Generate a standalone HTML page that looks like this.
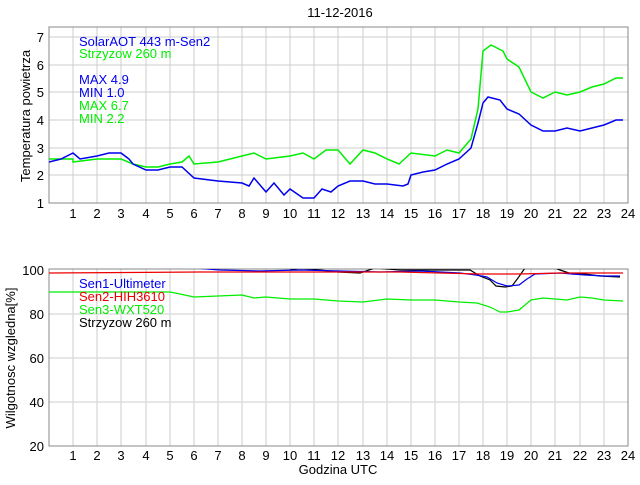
<!DOCTYPE html>
<html><head><style>
body{margin:0;background:#fff;}
svg text{font-family:"Liberation Sans",sans-serif;font-size:13px;}
</style></head><body>
<svg width="640" height="480" xmlns="http://www.w3.org/2000/svg">
<defs>
<clipPath id="c1"><rect x="49" y="27" width="579" height="177"/></clipPath>
<clipPath id="c2"><rect x="49" y="269" width="579" height="178"/></clipPath>
</defs>
<rect width="640" height="480" fill="#fff"/>
<text x="340" y="17" text-anchor="middle" font-size="12">11-12-2016</text>
<g id="grid1" stroke="#ddd" stroke-width="1.5">
<line x1="49" x2="628" y1="37" y2="37"/><line x1="49" x2="628" y1="65" y2="65"/><line x1="49" x2="628" y1="92" y2="92"/><line x1="49" x2="628" y1="120" y2="120"/><line x1="49" x2="628" y1="148" y2="148"/><line x1="49" x2="628" y1="175" y2="175"/>
</g>
<g stroke="#ccc" stroke-width="1">
<path d="M73 27V203M97 27V203M121 27V203M146 27V203M170 27V203M194 27V203M218 27V203M242 27V203M266 27V203M290 27V203M314 27V203M338 27V203M363 27V203M387 27V203M411 27V203M435 27V203M459 27V203M483 27V203M507 27V203M531 27V203M555 27V203M580 27V203M604 27V203"/>
<path d="M73 269V446M97 269V446M121 269V446M146 269V446M170 269V446M194 269V446M218 269V446M242 269V446M266 269V446M290 269V446M314 269V446M338 269V446M363 269V446M387 269V446M411 269V446M435 269V446M459 269V446M483 269V446M507 269V446M531 269V446M555 269V446M580 269V446M604 269V446"/>
</g>
<g stroke="#ddd" stroke-width="1.5">
<line x1="49" x2="628" y1="314" y2="314"/><line x1="49" x2="628" y1="358" y2="358"/><line x1="49" x2="628" y1="402" y2="402"/>
</g>
<rect x="49" y="27" width="579" height="176" fill="none" stroke="#888"/>
<rect x="49" y="269" width="579" height="177" fill="none" stroke="#888"/>
<g clip-path="url(#c1)" fill="none" stroke-width="1.5">
<polyline stroke="#00ee00" points="49,159 73,159 73,162 97,159 121,159 133,164 146,167 158,167 170,164 182,162 189,156 194,164 218,162 242,156 254,153 266,159 290,156 303,153 314,159 326,150 338,150 350,164 363,150 375,153 387,159 399,164 411,153 435,156 447,150 459,153 471,139 478,109 483,51 491,45 503,51 507,59 519,67 531,92 543,98 555,92 567,95 580,92 592,87 604,84 616,78 623,78"/>
<polyline stroke="#0000ee" points="49,162 61,159 73,153 80,159 97,156 109,153 121,153 129,159 133,164 146,170 158,170 170,167 182,167 194,178 218,181 242,183 249,186 254,178 266,192 274,183 284,195 290,189 303,198 314,198 322,189 331,192 338,186 350,181 363,181 375,184 387,184 403,186 408,184 411,175 423,172 435,170 447,164 459,159 471,148 478,123 483,103 488,97 500,100 507,109 519,114 531,125 543,131 555,131 567,128 580,131 592,128 604,125 616,120 623,120"/>
</g>
<g clip-path="url(#c2)" fill="none" stroke-width="1.2">
<polyline stroke="#000" points="290,270 300,268 320,270 338,272 360,273 375,268 400,270 470,270 480,276 490,280 496,286 505,287 512,286 518,278 525,268 540,268 550,266 560,270 572,274 585,274 600,276 620,277"/>
<polyline stroke="#0000ee" points="49,268 194,268 220,270 260,271 300,270 340,271 380,272 420,271 460,273 476,275 487,277 497,283 507,286 519,285 527,279 535,274 560,273 585,275 605,276 620,276"/>
<polyline stroke="#ee0000" points="49,273 200,272 300,272 400,272 480,274 520,274 560,273 600,273 623,273"/>
<polyline stroke="#00ee00" points="49,292 170,292 180,294 194,297 218,296 242,295 254,298 266,297 290,299 314,299 338,301 363,302 387,299 411,300 435,300 459,302 477,303 490,307 500,312 507,312 519,310 531,300 543,298 555,299 567,300 580,297 592,298 604,300 623,301"/>
</g>
<g text-anchor="end">
<text x="44" y="42">7</text><text x="44" y="70">6</text><text x="44" y="97">5</text><text x="44" y="125">4</text><text x="44" y="153">3</text><text x="44" y="180">2</text><text x="44" y="208">1</text>
<text x="44" y="275">100</text><text x="44" y="319">80</text><text x="44" y="363">60</text><text x="44" y="407">40</text><text x="44" y="451">20</text>
</g>
<g text-anchor="middle">
<text x="73" y="218">1</text><text x="97" y="218">2</text><text x="121" y="218">3</text><text x="146" y="218">4</text><text x="170" y="218">5</text><text x="194" y="218">6</text><text x="218" y="218">7</text><text x="242" y="218">8</text><text x="266" y="218">9</text><text x="290" y="218">10</text><text x="314" y="218">11</text><text x="338" y="218">12</text><text x="363" y="218">13</text><text x="387" y="218">14</text><text x="411" y="218">15</text><text x="435" y="218">16</text><text x="459" y="218">17</text><text x="483" y="218">18</text><text x="507" y="218">19</text><text x="531" y="218">20</text><text x="555" y="218">21</text><text x="580" y="218">22</text><text x="604" y="218">23</text><text x="628" y="218">24</text>
<text x="73" y="460">1</text><text x="97" y="460">2</text><text x="121" y="460">3</text><text x="146" y="460">4</text><text x="170" y="460">5</text><text x="194" y="460">6</text><text x="218" y="460">7</text><text x="242" y="460">8</text><text x="266" y="460">9</text><text x="290" y="460">10</text><text x="314" y="460">11</text><text x="338" y="460">12</text><text x="363" y="460">13</text><text x="387" y="460">14</text><text x="411" y="460">15</text><text x="435" y="460">16</text><text x="459" y="460">17</text><text x="483" y="460">18</text><text x="507" y="460">19</text><text x="531" y="460">20</text><text x="555" y="460">21</text><text x="580" y="460">22</text><text x="604" y="460">23</text><text x="628" y="460">24</text>
<text x="338" y="474">Godzina UTC</text>
</g>
<text transform="translate(30,116) rotate(-90)" text-anchor="middle">Temperatura powietrza</text>
<text transform="translate(15,358) rotate(-90)" text-anchor="middle">Wilgotnosc wzgledna[%]</text>
<text x="79" y="46" fill="#0000ee">SolarAOT 443 m-Sen2</text>
<text x="79" y="58" fill="#00ee00">Strzyzow 260 m</text>
<text x="79" y="84" fill="#0000ee">MAX 4.9</text>
<text x="79" y="97" fill="#0000ee">MIN 1.0</text>
<text x="79" y="110" fill="#00ee00">MAX 6.7</text>
<text x="79" y="123" fill="#00ee00">MIN 2.2</text>
<text x="79" y="288" fill="#0000ee">Sen1-Ultimeter</text>
<text x="79" y="301" fill="#ee0000">Sen2-HIH3610</text>
<text x="79" y="314" fill="#00ee00">Sen3-WXT520</text>
<text x="79" y="327" fill="#000">Strzyzow 260 m</text>
</svg>
</body></html>
